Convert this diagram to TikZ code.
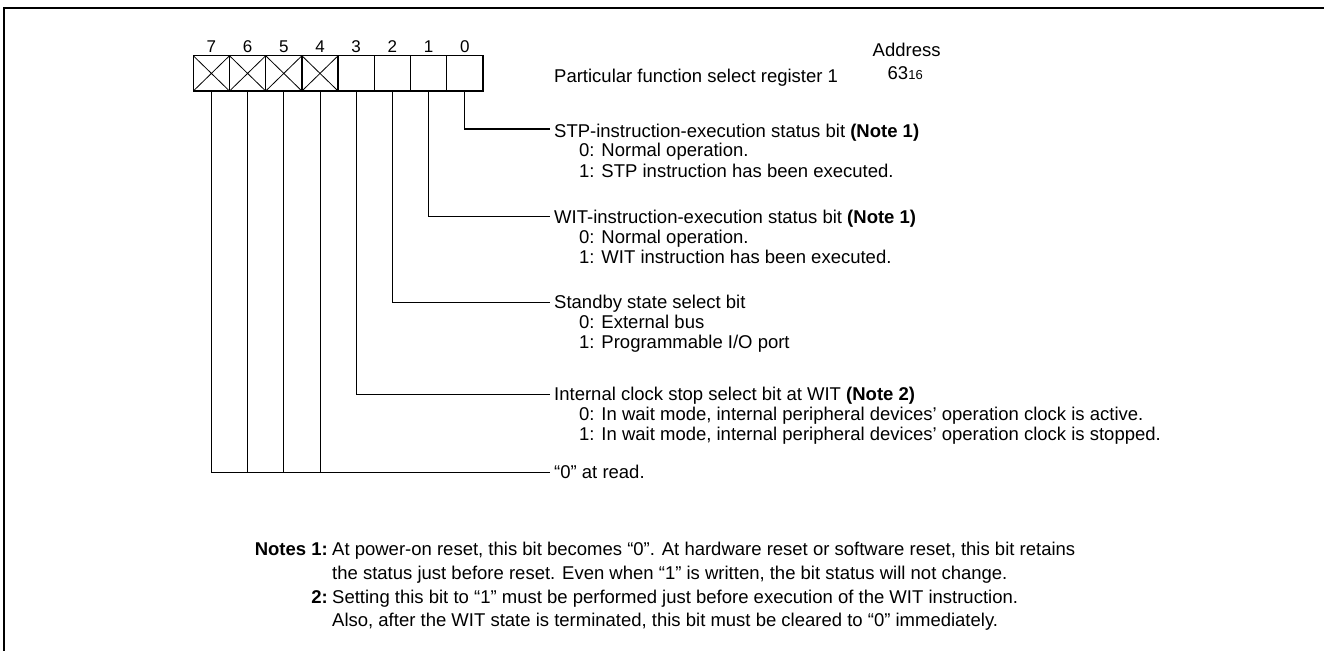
\documentclass[tikz,border=0pt]{standalone}
\usepackage{fontspec}
\setmainfont{Liberation Sans}
\begin{document}
\begin{tikzpicture}[x=1pt,y=-1pt,
  cell/.style={draw,line width=1.5pt,minimum width=36.2pt,minimum height=35.3pt,inner sep=0pt,outer sep=0pt},
  xline/.style={line width=0.8pt},
  conn/.style={line width=1pt},
  txt/.style={anchor=base west,inner sep=0pt,font=\fontsize{18.5}{22}\selectfont},
  txte/.style={anchor=base east,inner sep=0pt,font=\fontsize{18.5}{22}\selectfont},
  bitno/.style={anchor=base,inner sep=0pt,font=\fontsize{17}{19}\selectfont}]
\useasboundingbox (0,0) rectangle (1324,650);
\draw[line width=2pt] (4.3,651) -- (4.3,8.3) -- (1325,8.3);
% register cells
\foreach \b/\x in {7/211.4,6/247.6,5/283.8,4/320.0,3/356.2,2/392.4,1/428.6,0/464.8}{
  \node[cell] (c\b) at (\x,73.4) {};
  \node[bitno] (n\b) at (\x,52.3) {\b};
}
\foreach \b in {7,6,5,4}{
  \draw[xline] (c\b.north west) -- (c\b.south east) (c\b.north east) -- (c\b.south west);
}
% header
\node[txt] (title) at (554,82.5) {Particular function select register 1};
\node[txt] (addr) at (872.5,56.5) {Address};
\node[txt] (addrv) at (887.5,80) {63{\fontsize{13}{13}\selectfont 16}};
% connector ends
\coordinate (e0) at (550,129);
\coordinate (e1) at (550,216.5);
\coordinate (e2) at (550,302.5);
\coordinate (e3) at (550,394);
\coordinate (e7) at (550,472);
\draw[conn] (c0.south) |- (e0);
\draw[conn] (c1.south) |- (e1);
\draw[conn] (c2.south) |- (e2);
\draw[conn] (c3.south) |- (e3);
\draw[conn] (c7.south) |- (e7);
\draw[conn] (c6.south) -- (c6.south |- e7);
\draw[conn] (c5.south) -- (c5.south |- e7);
\draw[conn] (c4.south) -- (c4.south |- e7);
% bit 0
\node[txt] (t0a) at (554,137) {STP-instruction-execution status bit \textbf{(Note 1)}};
\node[txt] (t0b) at (579,157) {0: Normal operation.};
\node[txt] (t0c) at (579,177) {1: STP instruction has been executed.};
% bit 1
\node[txt] (t1a) at (554,223.5) {WIT-instruction-execution status bit \textbf{(Note 1)}};
\node[txt] (t1b) at (579,243.5) {0: Normal operation.};
\node[txt] (t1c) at (579,263.5) {1: WIT instruction has been executed.};
% bit 2
\node[txt] (t2a) at (554,308.5) {Standby state select bit};
\node[txt] (t2b) at (579,328.5) {0: External bus};
\node[txt] (t2c) at (579,348.5) {1: Programmable I/O port};
% bit 3
\node[txt] (t3a) at (554,400) {Internal clock stop select bit at WIT \textbf{(Note 2)}};
\node[txt] (t3b) at (579,420) {0: In wait mode, internal peripheral devices’ operation clock is active.};
\node[txt] (t3c) at (579,440) {1: In wait mode, internal peripheral devices’ operation clock is stopped.};
% bits 7-4
\node[txt] (t7) at (554,478.5) {“0” at read.};
% notes
\node[txte] (nl1) at (328,555) {\textbf{Notes 1:}};
\node[txt] (n1a) at (332,555) {At power-on reset, this bit becomes “0”. At hardware reset or software reset, this bit retains};
\node[txt] (n1b) at (332,579) {the status just before reset. Even when “1” is written, the bit status will not change.};
\node[txte] (nl2) at (328,603) {\textbf{2:}};
\node[txt] (n2a) at (332,603) {Setting this bit to “1” must be performed just before execution of the WIT instruction.};
\node[txt] (n2b) at (332,626) {Also, after the WIT state is terminated, this bit must be cleared to “0” immediately.};
\end{tikzpicture}
\end{document}
